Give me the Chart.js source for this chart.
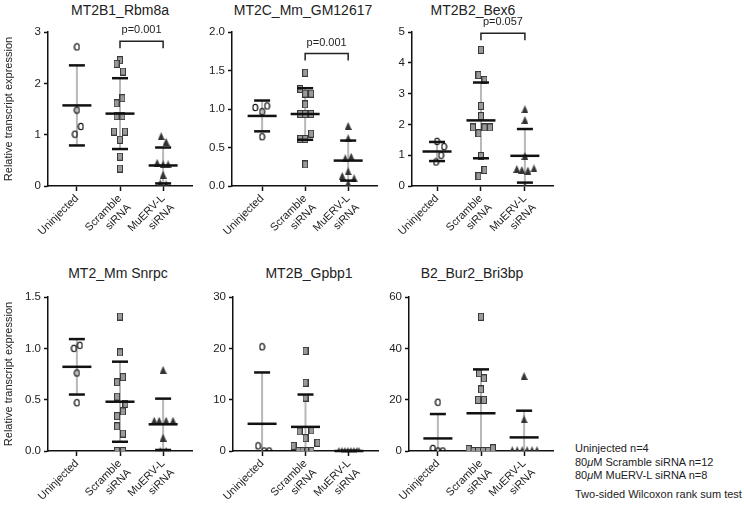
<!DOCTYPE html>
<html>
<head>
<meta charset="utf-8">
<script src="https://cdn.jsdelivr.net/npm/chart.js@4"></script>
<style>
  body { margin: 0; background: #fff; }
  #page { position: relative; width: 744px; height: 505px; overflow: hidden;
          font-family: 'Liberation Sans', Arial, sans-serif; color: #222; }
  canvas { position: absolute; }
  .title { position: absolute; font-size: 14px; white-space: nowrap; transform: translateX(-50%); }
  .note { position: absolute; left: 575px; font-size: 11px; white-space: nowrap; }
</style>
</head>
<body>
<div id="page">
  <div class="title" style="left:120px; top:2px">MT2B1_Rbm8a</div>
  <div class="title" style="left:303px; top:2px">MT2C_Mm_GM12617</div>
  <div class="title" style="left:473px; top:2px">MT2B2_Bex6</div>
  <div class="title" style="left:118px; top:265px">MT2_Mm Snrpc</div>
  <div class="title" style="left:309px; top:265px">MT2B_Gpbp1</div>
  <div class="title" style="left:472px; top:265px">B2_Bur2_Bri3bp</div>
  <div class="note" style="top:442px">Uninjected n=4</div>
  <div class="note" style="top:456px">80<i>μ</i>M Scramble siRNA n=12</div>
  <div class="note" style="top:469px">80<i>μ</i>M MuERV-L siRNA n=8</div>
  <div class="note" style="top:488px">Two-sided Wilcoxon rank sum test</div>
</div>
<script>
const groups = ['Uninjected', ['Scramble', 'siRNA'], ['MuERV-L', 'siRNA']];

// MT2B1_Rbm8a
const rbm8aUninj = [2.71, 1.48, 1.16, 1.01];
const rbm8aScr = [2.45, 2.38, 2.23, 1.71, 1.61, 1.36, 1.36, 1.06, 1.06, 0.90, 0.57, 0.34];
const rbm8aMu = [0.97, 0.86, 0.45, 0.42, 0.42, 0.22, 0.05, 0.03];
const rbm8aMean = [1.57, 1.41, 0.40];
const rbm8aSd = [0.78, 0.69, 0.35];

// MT2C_Mm_GM12617
const gm12617Uninj = [1.04, 1.02, 0.965, 0.64];
const gm12617Scr = [1.47, 1.26, 1.20, 1.20, 1.06, 0.935, 0.935, 0.935, 0.68, 0.61, 0.61, 0.28];
const gm12617Mu = [0.78, 0.62, 0.36, 0.38, 0.13, 0.19, 0.10, 0.035];
const gm12617Mean = [0.91, 0.935, 0.33];
const gm12617Sd = [0.20, 0.335, 0.26];

// MT2B2_Bex6
const bex6Uninj = [1.45, 1.28, 1.0, 0.78];
const bex6Scr = [4.42, 3.60, 3.44, 2.60, 2.27, 1.90, 1.71, 1.90, 1.90, 0.97, 0.52, 0.32];
const bex6Mu = [2.49, 2.14, 0.97, 0.55, 0.52, 0.50, 0.57, 0.0];
const bex6Mean = [1.12, 2.13, 0.98];
const bex6Sd = [0.31, 1.23, 0.87];

// MT2_Mm Snrpc
const snrpcUninj = [1.00, 1.03, 0.76, 0.47];
const snrpcScr = [1.31, 0.96, 0.72, 0.67, 0.53, 0.46, 0.385, 0.34, 0.24, 0.17, 0.0, 0.0];
const snrpcMu = [0.79, 0.295, 0.295, 0.295, 0.295, 0.13, 0.0, 0.0];
const snrpcMean = [0.82, 0.48, 0.26];
const snrpcSd = [0.27, 0.39, 0.25];

// MT2B_Gpbp1
const gpbp1Uninj = [20.3, 1.0, 0.0, 0.0];
const gpbp1Scr = [19.5, 13.3, 10.4, 3.8, 4.0, 2.5, 1.6, 1.0, 0, 0, 0, 0];
const gpbp1Mu = [0, 0, 0, 0, 0, 0, 0, 0];
const gpbp1Mean = [5.3, 4.7, 0];
const gpbp1Sd = [10.0, 6.3, 0];

// B2_Bur2_Bri3bp
const bri3bpUninj = [19.0, 1.0, 0, 0];
const bri3bpScr = [52.3, 30.3, 28.3, 24.0, 19.9, 19.9, 0.8, 0, 0, 0, 0, 1.05];
const bri3bpMu = [29.2, 12.3, 0.3, 0.3, 0.3, 0.3, 0.3, 0.3];
const bri3bpMean = [4.9, 14.7, 5.3];
const bri3bpSd = [9.5, 17.1, 10.4];

// horizontal scatter of the dots around each group, in px
const jitUninj = {
  rbm8a: [0, 0, 4, -2], gm12617: [5, -7, 0, 0], bex6: [0, 7, 4, -1],
  snrpc: [-3, 3, 0, 0], gpbp1: [0, -4, 2, 7], bri3bp: [0, -5, 0, 5]
};
const jitScr = {
  rbm8a: [0, -3.5, 3, 2.5, -3.5, -3.5, 2.5, -6, 5, 0, 0, 0],
  gm12617: [0, -5, 0, 6, 0, -5, 0, 6, 6, -5, 0, 0],
  bex6: [0, -2.5, 3.5, 0, 0, -8, -2.5, 3.5, 9, 0, 3.5, -2.5],
  snrpc: [0, 0, 3, -3, -3, 5.5, 3, -3, -3, 3, -3, 3],
  gpbp1: [0, 0, 0, -6, 6, 0, 12, -12, -7, -3, 2, 6],
  bri3bp: [0, -2, 3, 0, -3, 3, -12.5, -7.5, -3, 2, 7, 12]
};
const jitMu = {
  rbm8a: [-2, 3, -6, 0, 5, 0, -3, 3],
  gm12617: [0, 0, -3, 3, -6, 0, 6, 0],
  bex6: [0, 0, 0, -8, -3, 3, 9, 0],
  snrpc: [0, -9, -4, 3, 10, 0, -3, 3],
  gpbp1: [-10, -7, -4, -1, 2, 5, 8, 10],
  bri3bp: [0, 0, -12, -7, -2, 3, 8, 13]
};

const PX = 43.5; // px per category step

function ringImg() {
  const c = document.createElement('canvas');
  c.width = 7; c.height = 9;
  const g = c.getContext('2d');
  g.strokeStyle = '#000'; g.lineWidth = 1.1;
  g.beginPath(); g.ellipse(3.5, 4.5, 2.4, 3.3, 0, 0, Math.PI * 2); g.stroke();
  return c;
}
function squareImg() {
  const c = document.createElement('canvas');
  c.width = 6; c.height = 8;
  const g = c.getContext('2d');
  g.fillStyle = '#9a9a9a'; g.fillRect(0.5, 0.5, 5, 7);
  g.strokeStyle = '#3a3a3a'; g.lineWidth = 1; g.strokeRect(0.5, 0.5, 5, 7);
  return c;
}
function triImg() {
  const c = document.createElement('canvas');
  c.width = 7; c.height = 8;
  const g = c.getContext('2d');
  g.fillStyle = '#333';
  g.beginPath(); g.moveTo(3.5, 0); g.lineTo(7, 8); g.lineTo(0, 8); g.closePath(); g.fill();
  return c;
}
const marks = [ringImg(), squareImg(), triImg()];

const panels = [
  { id: 'rbm8a', left: 0, top: 0, w: 200, h: 250, yw: 48, padTop: 32, xh: 64, xmin: 0.33, xmax: 3.67,
    ymax: 3, step: 1, dec: 0, title: true,
    sets: [rbm8aUninj, rbm8aScr, rbm8aMu], means: rbm8aMean, sds: rbm8aSd, p: { y: 2.82, text: 'p=0.001' } },
  { id: 'gm12617', left: 190, top: 0, w: 195, h: 250, yw: 42, padTop: 32, xh: 64, xmin: 0.30, xmax: 3.67,
    ymax: 2, step: 0.5, dec: 1,
    sets: [gm12617Uninj, gm12617Scr, gm12617Mu], means: gm12617Mean, sds: gm12617Sd, p: { y: 1.72, text: 'p=0.001' } },
  { id: 'bex6', left: 370, top: 0, w: 191, h: 250, yw: 42, padTop: 32, xh: 64, xmin: 0.43, xmax: 3.64,
    ymax: 5, step: 1, dec: 0,
    sets: [bex6Uninj, bex6Scr, bex6Mu], means: bex6Mean, sds: bex6Sd, p: { y: 4.96, text: 'p=0.057' } },
  { id: 'snrpc', left: 0, top: 250, w: 200, h: 255, yw: 48, padTop: 47, xh: 54, xmin: 0.33, xmax: 3.67,
    ymax: 1.5, step: 0.5, dec: 1, title: true,
    sets: [snrpcUninj, snrpcScr, snrpcMu], means: snrpcMean, sds: snrpcSd },
  { id: 'gpbp1', left: 191, top: 250, w: 195, h: 255, yw: 42, padTop: 47, xh: 54, xmin: 0.33, xmax: 3.67,
    ymax: 30, step: 10, dec: 0,
    sets: [gpbp1Uninj, gpbp1Scr, gpbp1Mu], means: gpbp1Mean, sds: gpbp1Sd },
  { id: 'bri3bp', left: 367, top: 250, w: 194, h: 255, yw: 42, padTop: 47, xh: 54, xmin: 0.33, xmax: 3.67,
    ymax: 60, step: 20, dec: 0,
    sets: [bri3bpUninj, bri3bpScr, bri3bpMu], means: bri3bpMean, sds: bri3bpSd }
];
const jits = [jitUninj, jitScr, jitMu];

// mean +/- SD bars and the p-value bracket
function barsPlugin(p) {
  return {
    id: 'bars_' + p.id,
    beforeDatasetsDraw(chart) {
      const { ctx, chartArea: a, scales: { x, y } } = chart;
      ctx.save();
      ctx.beginPath(); ctx.rect(a.left, a.top - 3, a.width, a.height + 3); ctx.clip();
      ctx.strokeStyle = '#b8b8b8'; ctx.lineWidth = 2;
      p.means.forEach((m, i) => {
        const px = x.getPixelForValue(i + 1);
        ctx.beginPath();
        ctx.moveTo(px, y.getPixelForValue(m + p.sds[i]));
        ctx.lineTo(px, y.getPixelForValue(Math.max(m - p.sds[i], 0)));
        ctx.stroke();
      });
      ctx.restore();
    },
    afterDatasetsDraw(chart) {
      const { ctx, scales: { x, y } } = chart;
      ctx.save();
      ctx.strokeStyle = '#111'; ctx.lineWidth = 2.5;
      const hline = (px, v, hw) => {
        const py = y.getPixelForValue(v);
        ctx.beginPath(); ctx.moveTo(px - hw, py); ctx.lineTo(px + hw, py); ctx.stroke();
      };
      p.means.forEach((m, i) => {
        const px = x.getPixelForValue(i + 1);
        hline(px, m, 14.5);
        hline(px, m + p.sds[i], 8);
        if (m - p.sds[i] >= 0) hline(px, m - p.sds[i], 8);
      });
      if (p.p) {
        const x1 = x.getPixelForValue(2), x2 = x.getPixelForValue(3), yy = y.getPixelForValue(p.p.y);
        ctx.lineWidth = 1.5; ctx.strokeStyle = '#222';
        ctx.beginPath();
        ctx.moveTo(x1, yy + 7); ctx.lineTo(x1, yy); ctx.lineTo(x2, yy); ctx.lineTo(x2, yy + 7);
        ctx.stroke();
        ctx.fillStyle = '#222';
        ctx.font = "11px 'Liberation Sans', Arial, sans-serif";
        ctx.textAlign = 'center'; ctx.textBaseline = 'alphabetic';
        ctx.fillText(p.p.text, (x1 + x2) / 2, yy - 8);
      }
      ctx.restore();
    }
  };
}

Chart.defaults.font.family = "'Liberation Sans', Arial, sans-serif";
Chart.defaults.color = '#222';

const page = document.getElementById('page');
panels.forEach(p => {
  const cv = document.createElement('canvas');
  cv.width = p.w; cv.height = p.h;
  cv.style.left = p.left + 'px'; cv.style.top = p.top + 'px';
  page.appendChild(cv);

  const datasets = p.sets.map((vals, g) => ({
    data: vals.map((v, i) => ({ x: g + 1 + jits[g][p.id][i] / PX, y: v })),
    pointStyle: marks[g],
    pointRadius: 4,
    pointHoverRadius: 4
  }));

  new Chart(cv, {
    type: 'scatter',
    data: { datasets },
    options: {
      responsive: false,
      animation: false,
      events: [],
      layout: { padding: { top: p.padTop, right: 8, left: 0, bottom: 0 } },
      plugins: { legend: { display: false }, tooltip: { enabled: false } },
      scales: {
        x: {
          type: 'linear', min: p.xmin, max: p.xmax,
          afterBuildTicks: s => { s.ticks = [1, 2, 3].map(v => ({ value: v })); },
          afterFit: s => { s.height = p.xh; },
          border: { color: '#111', width: 1.5 },
          grid: { drawOnChartArea: false, tickLength: 5, tickColor: '#111', tickWidth: 1.5 },
          ticks: {
            autoSkip: false, maxRotation: 45, minRotation: 45, padding: 1,
            font: { size: 11 }, color: '#222',
            callback: v => groups[v - 1]
          }
        },
        y: {
          min: 0, max: p.ymax,
          afterFit: s => { s.width = p.yw; },
          border: { color: '#111', width: 1.5 },
          grid: { drawOnChartArea: false, tickLength: 4, tickColor: '#111', tickWidth: 1.5 },
          ticks: { stepSize: p.step, padding: 3, font: { size: 11.5 }, color: '#222',
                   callback: v => v.toFixed(p.dec) },
          title: { display: !!p.title, text: 'Relative transcript expression',
                   font: { size: 11 }, color: '#222', padding: { top: 2, bottom: 2 } }
        }
      }
    },
    plugins: [barsPlugin(p)]
  });
});
</script>
</body>
</html>
